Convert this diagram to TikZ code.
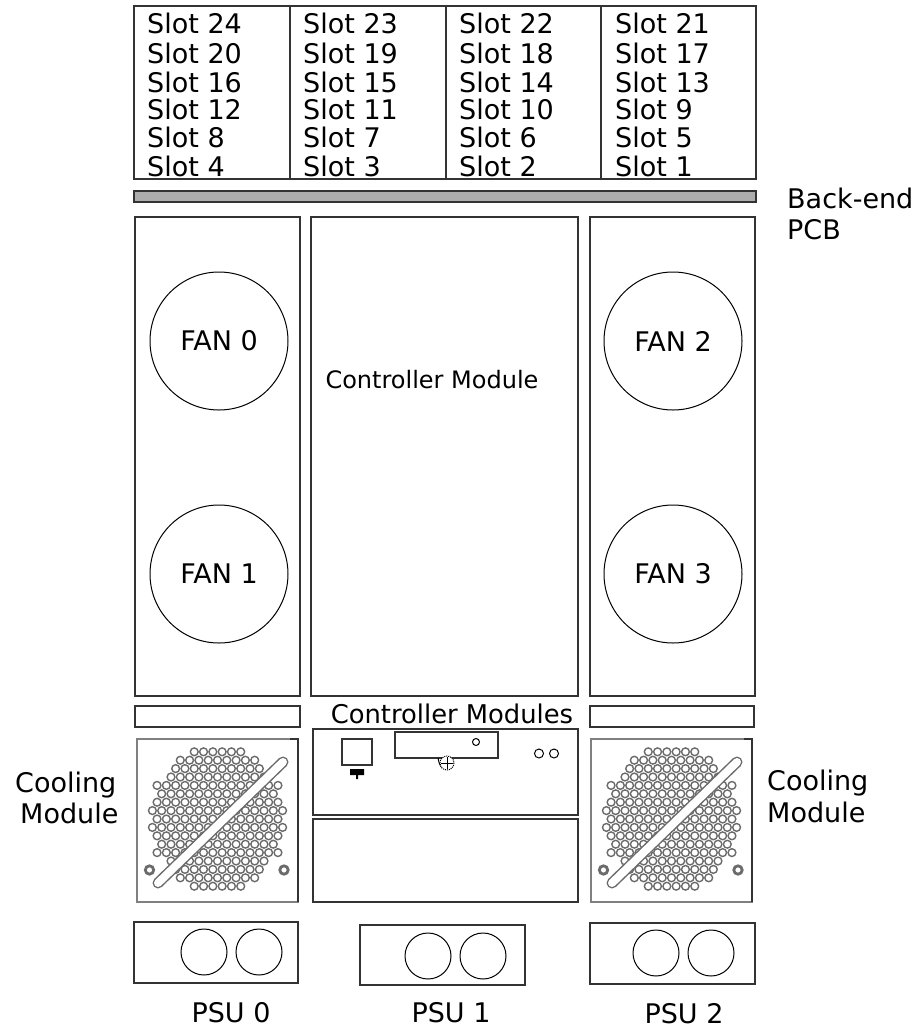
\documentclass[tikz,border=0pt]{standalone}
\usepackage{fontspec}
\setmainfont{DejaVu Sans}
\definecolor{frameink}{gray}{0.2}
\definecolor{holeink}{gray}{0.42}
\definecolor{pcbfill}{gray}{0.68}
\tikzset{
	box/.style={draw=frameink, line width=1.2pt},
	ring/.style={draw=black, line width=1pt},
	slotlabel/.style={anchor=base west, inner sep=0pt, font=\fontsize{27}{27}\selectfont},
	tag/.style={inner sep=0pt, font=\fontsize{27}{27}\selectfont},
	coolfan/.pic={
		\draw[draw=gray, line width=1.2pt] (0,0) rectangle (161,163);
		\draw[draw=frameink, line width=1.2pt] (153,0) -- (161,0) -- (161,163);
		\foreach \row/\half in {0/2.5,1/4,2/4.5,3/5,4/6.5,5/6,6/6.5,7/7,8/6.5,9/7,10/6.5,11/6,12/6.5,13/5,14/4.5,15/4,16/2.5} {
			\pgfmathsetmacro{\nxt}{-\half+1}
			\foreach \k in {-\half,\nxt,...,\half}
				\draw[draw=holeink, line width=1.4pt, fill=white] (80.5+9.3*\k,80-8.4*8+8.4*\row) circle (3.9);
		}
		\draw[holeink, line width=11pt, line cap=round] (21,144) -- (146,23);
		\draw[white, line width=8pt, line cap=round] (21,144) -- (146,23);
		\draw[draw=holeink, line width=2.8pt, fill=white] (12.5,131) circle (4.2);
		\draw[draw=holeink, line width=2.8pt, fill=white] (147,131) circle (4.2);
	}
}

\begin{document}
\begin{tikzpicture}[x=1pt, y=-1pt]

	\useasboundingbox (0,0) rectangle (918,1029);

	% drive slots
	\draw[box] (134,6) rectangle (756,179);
	\draw[box] (290,6) -- (290,179);
	\draw[box] (446,6) -- (446,179);
	\draw[box] (601,6) -- (601,179);

	\foreach \ybase [count=\r from 0] in {33,63,92,119,147,176} {
		\foreach \xtext [count=\c from 1] in {147,303,459,615} {
			\pgfmathtruncatemacro{\num}{25-4*\r-\c}
			\node[slotlabel] (slot\num) at (\xtext,\ybase) {Slot \num};
		}
	}

	% back-end board
	\draw[box, fill=pcbfill] (134,191) rectangle (756,202);
	\node[tag, anchor=base west] (pcbA) at (787,208) {Back-end};
	\node[tag, anchor=base west] (pcbB) at (787,239) {PCB};

	% fan bays
	\draw[box] (135,217) rectangle (300,696);
	\draw[box] (311,217) rectangle (578,696);
	\draw[box] (590,217) rectangle (755,696);

	\foreach \cx/\cy/\name in {219/341/0, 219/574/1, 673/341/2, 673/574/3} {
		\draw[ring] (\cx,\cy) circle (69);
		\node[tag] (fan\name) at (\cx,\cy) {FAN \name};
	}

	\node[tag, font=\fontsize{24}{24}\selectfont] (ctrl) at (432,380) {Controller Module};

	% bars above the cooling modules
	\draw[box] (135,706) rectangle (300,727);
	\draw[box] (590,706) rectangle (754,727);
	\node[tag, anchor=base, font=\fontsize{25.8}{26}\selectfont] (ctrlmods) at (452,723) {Controller Modules};

	% cooling modules
	\pic (coolA) at (137,739) {coolfan};
	\pic (coolB) at (591,739) {coolfan};

	\node[tag, anchor=base west] (coolAa) at (15,792) {Cooling};
	\node[tag, anchor=base west] (coolAb) at (20,823) {Module};
	\node[tag, anchor=base west] (coolBa) at (767,790) {Cooling};
	\node[tag, anchor=base west] (coolBb) at (767,822) {Module};

	% controller panels
	\draw[box] (313,729) rectangle (578,815);
	\draw[box] (313,819) rectangle (578,902);
	\draw[box] (342,739) rectangle (372,765);
	\fill (350,769) -- (364,769) -- (364,775) -- (358,775) -- (358,779) -- (356,779) -- (356,775) -- (350,775) -- cycle;
	\draw[box] (395,732) rectangle (498,758);
	\draw[ring] (476,742) circle (3.5);
	\draw[line width=1pt] (438,758) .. controls (439,763) and (440,766) .. (442,768);
	\draw[ring, densely dotted, fill=white] (447,763) circle (7);
	\draw[line width=1pt] (441,763) -- (453,763) (447,757) -- (447,769);
	\draw[ring] (539,753.5) circle (4.5);
	\draw[ring] (554,753.5) circle (4.5);

	% power supplies
	\draw[box] (134,922) rectangle (298,983);
	\draw[box] (360,925) rectangle (525,985);
	\draw[box] (590,923) rectangle (755,984);

	\foreach \cx/\cy in {204/952, 259/952, 428/956, 483/956, 656/953, 711/953}
		\draw[ring] (\cx,\cy) circle (23);

	\node[tag, anchor=base] (psuA) at (231,1022) {PSU 0};
	\node[tag, anchor=base] (psuB) at (451,1022) {PSU 1};
	\node[tag, anchor=base] (psuC) at (684,1023) {PSU 2};

\end{tikzpicture}
\end{document}
